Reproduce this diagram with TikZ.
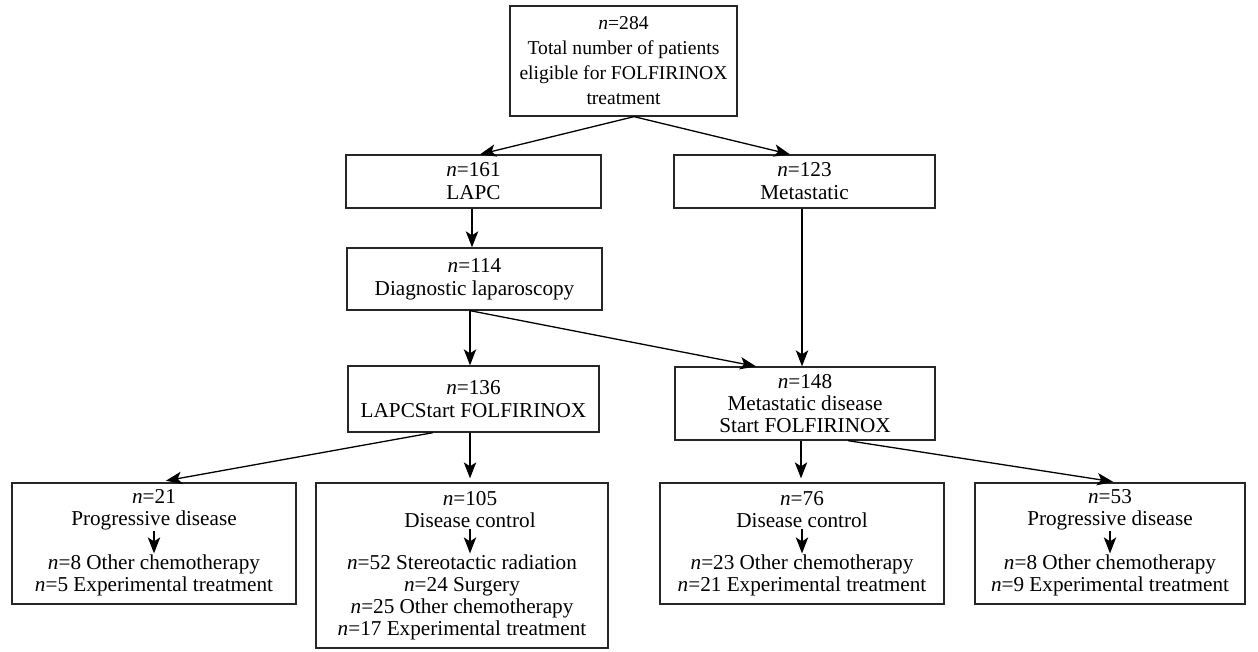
\documentclass[tikz,border=0pt]{standalone}
\usepackage{fontspec}
\setmainfont{Liberation Serif}
\usetikzlibrary{arrows.meta,calc}
\begin{document}
\begin{tikzpicture}[x=0.5pt,y=-0.5pt,
  box/.style={draw=black!85,line width=0.65pt,rectangle,inner sep=0pt,align=center,
    font=\fontsize{10.6}{11.5}\selectfont},
  txt/.style={align=center,inner xsep=0pt,inner ysep=0.3pt,font=\fontsize{10.6}{11}\selectfont},
  arr/.style={line width=0.65pt,-{Stealth[length=8pt,width=6.2pt,inset=2pt]}},
]
\useasboundingbox (0,0) rectangle (1258,652);
% boxes
\node[box,minimum width=113.5pt,minimum height=55pt,font=\fontsize{9.8}{12.5}\selectfont] (top) at (623.5,61)
  {\textit{n}=284\\Total number of patients\\eligible for FOLFIRINOX\\treatment};
\node[box,minimum width=127.5pt,minimum height=26.5pt] (lapc) at (473.5,181.5) {\textit{n}=161\\LAPC};
\node[box,minimum width=130.5pt,minimum height=26.5pt] (meta) at (804.5,181.5) {\textit{n}=123\\Metastatic};
\node[box,minimum width=127.5pt,minimum height=31pt] (diag) at (474.5,279) {\textit{n}=114\\Diagnostic laparoscopy};
\node[box,minimum width=125.5pt,minimum height=33pt] (lstart) at (473.5,399) {\textit{n}=136\\LAPCStart FOLFIRINOX};
\node[box,minimum width=130pt,minimum height=36.5pt,font=\fontsize{10.6}{11}\selectfont] (mdis) at (805,403.5)
  {\textit{n}=148\\Metastatic disease\\Start FOLFIRINOX};
\node[box,minimum width=142pt,minimum height=60.5pt] (b1) at (154,543.5) {};
\node[box,minimum width=146pt,minimum height=82.5pt] (b2) at (462,565.5) {};
\node[box,minimum width=142pt,minimum height=60.5pt] (b3) at (802,543.5) {};
\node[box,minimum width=135pt,minimum height=60.5pt] (b4) at (1110,543.5) {};
% texts inside bottom boxes
\node[txt] (b1u) at (154,509.5) {\textit{n}=21\\Progressive disease};
\node[txt] (b1l) at (154,575) {\textit{n}=8 Other chemotherapy\\\textit{n}=5 Experimental treatment};
\node[txt] (b2u) at (470,509.5) {\textit{n}=105\\Disease control};
\node[txt] (b2l) at (462,597) {\textit{n}=52 Stereotactic radiation\\\textit{n}=24 Surgery\\\textit{n}=25 Other chemotherapy\\\textit{n}=17 Experimental treatment};
\node[txt] (b3u) at (802,509.5) {\textit{n}=76\\Disease control};
\node[txt] (b3l) at (802,575) {\textit{n}=23 Other chemotherapy\\\textit{n}=21 Experimental treatment};
\node[txt] (b4u) at (1110,509.5) {\textit{n}=53\\Progressive disease};
\node[txt] (b4l) at (1110,575) {\textit{n}=8 Other chemotherapy\\\textit{n}=9 Experimental treatment};
% inner arrows
\draw[arr] (b1u.south) -- (b1u.south |- b1l.north);
\draw[arr] (b2u.south) -- (b2u.south |- b2l.north);
\draw[arr] (b3u.south) -- (b3u.south |- b3l.north);
\draw[arr] (b4u.south) -- (b4u.south |- b4l.north);
% connectors
\coordinate (apex) at ($(top.south)+(10.5,0)$);
\draw[arr] (apex) -- ([xshift=3.25pt]lapc.north);
\draw[arr] (apex) -- ([xshift=-7.25pt]meta.north);
\draw[arr] ([xshift=-0.75pt]lapc.south) -- ([xshift=-0.75pt]lapc.south |- diag.north);
\draw[arr] ([xshift=-1.25pt]meta.south) -- ([xshift=-1.25pt]meta.south |- mdis.north);
\coordinate (dsrc) at ($(diag.south)+(-4.5,0)$);
\draw[arr] (dsrc) -- (dsrc |- lstart.north);
\draw[arr] (dsrc) -- ([xshift=-24.5pt]mdis.north);
\draw[arr,shorten >=4.5pt] ([xshift=-20.25pt]lstart.south) -- ([xshift=1.5pt]b1.north);
\draw[arr,shorten >=2pt] ([xshift=-1.75pt]lstart.south) -- ([xshift=-1.75pt]lstart.south |- b2.north);
\draw[arr,shorten >=2pt] ([xshift=-2pt]mdis.south) -- ([xshift=-2pt]mdis.south |- b3.north);
\draw[arr,shorten >=2pt] ([xshift=21.5pt]mdis.south) -- ([xshift=3.5pt]b4.north);
\end{tikzpicture}
\end{document}
